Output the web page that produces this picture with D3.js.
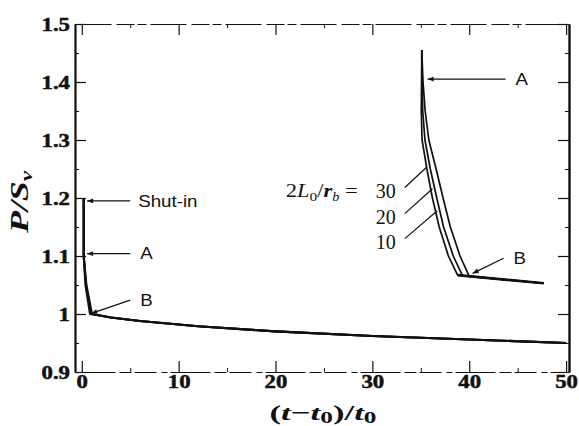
<!DOCTYPE html>
<meta charset="utf-8">
<script src="https://d3js.org/d3.v7.min.js"></script>
<style>
  body { margin: 0; background: #fff; }
</style>
<div id="chart"></div>
<script>

// axis ticks
var xTicks = [0, 10, 20, 30, 40, 50];
var xMinor = [5, 15, 25, 35, 45];
var yTicks = [0.9, 1.0, 1.1, 1.2, 1.3, 1.4, 1.5];
var yTickLabels = ["0.9", "1", "1.1", "1.2", "1.3", "1.4", "1.5"];
var yMinor = [0.95, 1.05, 1.15, 1.25, 1.35, 1.45];

// first shut-in at t = 0 : one curve per 2L0/rb (30, 20, 10)
var firstP   = [1.2, 1.1, 1.05, 1.0, 0.999, 0.994, 0.988, 0.979, 0.970, 0.962, 0.956, 0.950];
var firstT30 = [0.2, 0.2, 0.38, 0.85, 1.3, 3, 6, 12, 20, 30, 40, 50];
var firstT20 = [0.2, 0.2, 0.43, 0.95, 1.3, 3, 6, 12, 20, 30, 40, 50];
var firstT10 = [0.2, 0.2, 0.48, 1.05, 1.3, 3, 6, 12, 20, 30, 40, 50];

// second shut-in near t = 35
var secondP30 = [1.455, 1.40, 1.35, 1.30, 1.25, 1.20, 1.15, 1.10, 1.067, 1.053];
var secondP20 = [1.455, 1.40, 1.35, 1.30, 1.25, 1.20, 1.15, 1.10, 1.066, 1.053];
var secondP10 = [1.455, 1.40, 1.35, 1.30, 1.25, 1.20, 1.15, 1.10, 1.065, 1.053];
var secondT30 = [35.1, 35.08, 35.05, 35.13, 35.63, 36.2, 36.9, 37.85, 38.8, 47.7];
var secondT20 = [35.1, 35.13, 35.2, 35.43, 35.98, 36.65, 37.35, 38.35, 39.3, 47.7];
var secondT10 = [35.1, 35.23, 35.45, 35.83, 36.58, 37.3, 38.05, 39.05, 40.0, 47.7];

// arrow annotations (tip -> tail, in data units)
var arrowLabels = ["Shut-in", "A", "B", "A", "B"];
var arrowTipT  = [0.55, 0.55, 0.98, 35.7, 40.35];
var arrowTipP  = [1.195, 1.104, 1.001, 1.405, 1.070];
var arrowTailT = [5.0, 5.0, 5.0, 43.75, 43.55];
var arrowTailP = [1.195, 1.104, 1.024, 1.405, 1.096];

// 2L0/rb leader lines
var ratioLabels = ["30", "20", "10"];
var ratioTipT  = [35.6, 36.2, 36.7];
var ratioTipP  = [1.253, 1.216, 1.178];
var ratioTailT = [33.35, 33.35, 33.35];
var ratioTailP = [1.218, 1.173, 1.130];

var width = 579, height = 426;
var plotL = 75, plotR = 569, plotT = 24, plotB = 372;

var svg = d3.select("#chart")
  .append("svg")
    .attr("width", width)
    .attr("height", height)
    .style("background", "#fff");

var x = d3.scaleLinear().domain([-0.7, 50.3]).range([plotL, plotR]);
var y = d3.scaleLinear().domain([0.9, 1.5]).range([plotB, plotT]);

var ink = "#111";
var serif = "'Liberation Serif', 'Times New Roman', serif";
var sans = "'Liberation Sans', Arial, sans-serif";

function styleAxis(g, w, dash) {
  g.attr("font-family", serif).attr("font-size", 19).attr("font-weight", "bold");
  g.select(".domain").attr("stroke", ink).attr("stroke-width", w)
    .attr("stroke-dasharray", dash || null);
  g.selectAll(".tick line").attr("stroke", ink).attr("stroke-width", 1.2);
  g.selectAll(".tick text").attr("fill", ink).attr("stroke", ink).attr("stroke-width", 0.5);
}

// bottom
svg.append("g")
  .attr("transform", "translate(0," + plotB + ")")
  .call(d3.axisBottom(x).tickValues(xTicks).tickSizeInner(-11).tickSizeOuter(0).tickPadding(3))
  .call(function(g) { styleAxis(g, 1, "40,4,12,3,22,5,6,3"); })
  .selectAll(".tick text").attr("transform", "scale(1.2,1)");
svg.append("g")
  .attr("transform", "translate(0," + plotB + ")")
  .call(d3.axisBottom(x).tickValues(xMinor).tickSizeInner(-4).tickSizeOuter(0).tickFormat(""))
  .call(function(g) { g.select(".domain").remove(); g.selectAll("line").attr("stroke", ink); });

// top
svg.append("g")
  .attr("transform", "translate(0," + plotT + ")")
  .call(d3.axisTop(x).tickValues(xTicks).tickSizeInner(-11).tickSizeOuter(0).tickFormat(""))
  .call(function(g) { styleAxis(g, 1, "36,5,18,3,9,4"); });
svg.append("g")
  .attr("transform", "translate(0," + plotT + ")")
  .call(d3.axisTop(x).tickValues(xMinor).tickSizeInner(-4).tickSizeOuter(0).tickFormat(""))
  .call(function(g) { g.select(".domain").remove(); g.selectAll("line").attr("stroke", ink); });

// left
svg.append("g")
  .attr("transform", "translate(" + plotL + ",0)")
  .call(d3.axisLeft(y).tickValues(yTicks).tickSizeInner(-11).tickSizeOuter(0).tickPadding(5)
    .tickFormat(function(d, i) { return yTickLabels[i]; }))
  .call(function(g) { styleAxis(g, 2.2); })
  .selectAll(".tick text")
    .attr("x", -5 / 1.2)
    .attr("transform", "scale(1.2,1)");
svg.append("g")
  .attr("transform", "translate(" + plotL + ",0)")
  .call(d3.axisLeft(y).tickValues(yMinor).tickSizeInner(-4).tickSizeOuter(0).tickFormat(""))
  .call(function(g) { g.select(".domain").remove(); g.selectAll("line").attr("stroke", ink); });

// right
svg.append("g")
  .attr("transform", "translate(" + plotR + ",0)")
  .call(d3.axisRight(y).tickValues(yTicks).tickSizeInner(-11).tickSizeOuter(0).tickFormat(""))
  .call(function(g) { styleAxis(g, 2.4); });
svg.append("g")
  .attr("transform", "translate(" + plotR + ",0)")
  .call(d3.axisRight(y).tickValues(yMinor).tickSizeInner(-4).tickSizeOuter(0).tickFormat(""))
  .call(function(g) { g.select(".domain").remove(); g.selectAll("line").attr("stroke", ink); });

// curves
var line = d3.line()
  .x(function(d) { return x(d[0]); })
  .y(function(d) { return y(d[1]); });

var curves = [
  [firstT30, firstP, 2.1], [firstT20, firstP, 2.1], [firstT10, firstP, 2.1],
  [secondT30, secondP30, 1.7], [secondT20, secondP20, 1.7], [secondT10, secondP10, 1.7]
];
svg.append("g").selectAll("path")
  .data(curves)
  .enter()
  .append("path")
    .attr("d", function(c) { return line(d3.zip(c[0], c[1])); })
    .attr("fill", "none")
    .attr("stroke", ink)
    .attr("stroke-width", function(c) { return c[2]; })
    .attr("stroke-linejoin", "round");

// tail after the knee of the second shut-in is drawn heavier
svg.append("path")
  .attr("d", line([[secondT30[8], secondP30[8]], [secondT30[9], secondP30[9]]]))
  .attr("fill", "none").attr("stroke", ink).attr("stroke-width", 2.6);

// arrows
svg.append("defs").append("marker")
  .attr("id", "head")
  .attr("viewBox", "0 0 10 10")
  .attr("refX", 0).attr("refY", 5)
  .attr("markerUnits", "userSpaceOnUse")
  .attr("markerWidth", 10).attr("markerHeight", 6)
  .attr("orient", "auto")
  .append("path")
    .attr("d", "M0,5 L10,1 L10,9 Z")
    .attr("fill", ink);

var arrows = svg.append("g").selectAll("g")
  .data(arrowLabels)
  .enter()
  .append("g");
arrows.append("line")
  .attr("x1", function(d, i) { return x(arrowTipT[i]); })
  .attr("y1", function(d, i) { return y(arrowTipP[i]); })
  .attr("x2", function(d, i) { return x(arrowTailT[i]); })
  .attr("y2", function(d, i) { return y(arrowTailP[i]); })
  .attr("stroke", ink)
  .attr("stroke-width", 1.2)
  .attr("marker-start", "url(#head)");
arrows.append("text")
  .attr("transform", function(d, i) {
    return "translate(" + (x(arrowTailT[i]) + (i == 0 ? 8 : 10)) + "," + y(arrowTailP[i]) + ") scale(1.17,1)";
  })
  .attr("dy", "0.36em")
  .attr("font-family", sans)
  .attr("font-size", 16)
  .attr("fill", ink)
  .text(function(d) { return d; });

// 2L0/rb leaders
var ratios = svg.append("g").selectAll("g")
  .data(ratioLabels)
  .enter()
  .append("g");
ratios.append("line")
  .attr("x1", function(d, i) { return x(ratioTailT[i]); })
  .attr("y1", function(d, i) { return y(ratioTailP[i]); })
  .attr("x2", function(d, i) { return x(ratioTipT[i]); })
  .attr("y2", function(d, i) { return y(ratioTipP[i]); })
  .attr("stroke", ink)
  .attr("stroke-width", 1.2);
ratios.append("text")
  .attr("x", function(d, i) { return x(ratioTailT[i]) - 9; })
  .attr("y", function(d, i) { return y(ratioTailP[i]) + 10; })
  .attr("text-anchor", "end")
  .attr("font-family", serif)
  .attr("font-size", 20)
  .attr("fill", ink)
  .text(function(d) { return d; });

var rl = svg.append("text")
  .attr("x", x(ratioTailT[0]) - 47)
  .attr("y", y(ratioTailP[0]) + 9)
  .attr("text-anchor", "end")
  .attr("font-family", serif)
  .attr("font-size", 19)
  .attr("fill", ink)
  .attr("textLength", 72)
  .attr("lengthAdjust", "spacingAndGlyphs");
rl.append("tspan").text("2");
rl.append("tspan").attr("font-style", "italic").text("L");
rl.append("tspan").attr("font-size", 13).attr("dy", 4).text("0");
rl.append("tspan").attr("dy", -4).text("/");
rl.append("tspan").attr("font-style", "italic").attr("font-weight", "bold").text("r");
rl.append("tspan").attr("font-size", 12).attr("font-style", "italic").attr("dy", 4).text("b");
rl.append("tspan").attr("dy", -4).text(" =");

// axis titles
var xt = svg.append("text")
  .attr("x", 323)
  .attr("y", 420)
  .attr("text-anchor", "middle")
  .attr("font-family", serif)
  .attr("font-weight", "bold")
  .attr("font-size", 22)
  .attr("fill", ink)
  .attr("textLength", 107)
  .attr("lengthAdjust", "spacingAndGlyphs");
xt.append("tspan").text("(");
xt.append("tspan").attr("font-style", "italic").text("t");
xt.append("tspan").text("\u2212");
xt.append("tspan").attr("font-style", "italic").text("t");
xt.append("tspan").attr("font-size", 16).attr("dy", 3).text("0");
xt.append("tspan").attr("dy", -3).text(")/");
xt.append("tspan").attr("font-style", "italic").text("t");
xt.append("tspan").attr("font-size", 16).attr("dy", 3).text("0");

var yt = svg.append("text")
  .attr("transform", "translate(28,202) rotate(-90)")
  .attr("text-anchor", "middle")
  .attr("font-family", serif)
  .attr("font-weight", "bold")
  .attr("font-style", "italic")
  .attr("font-size", 25)
  .attr("fill", ink)
  .attr("textLength", 62)
  .attr("lengthAdjust", "spacingAndGlyphs");
yt.append("tspan").text("P/S");
yt.append("tspan").attr("font-size", 16).attr("dy", 4).text("v");

</script>
